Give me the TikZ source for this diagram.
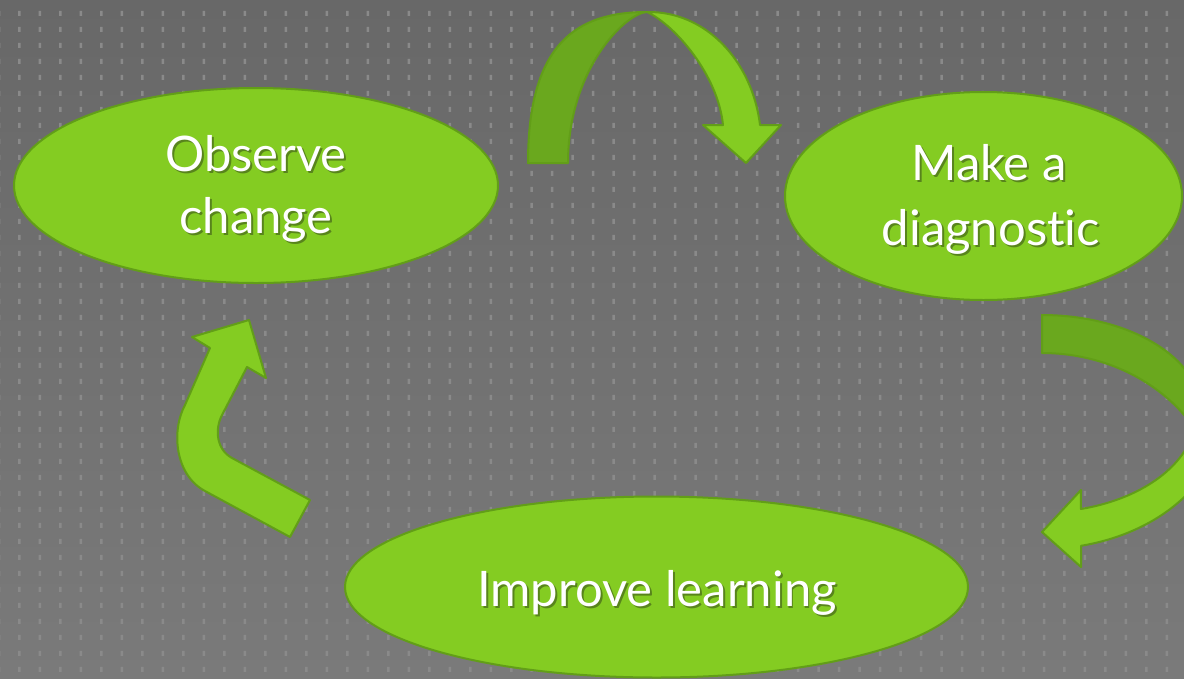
\documentclass[tikz,border=0pt]{standalone}
\usepackage{fontspec}
\setmainfont{Lato}[Ligatures={NoCommon,NoRare}]
\usetikzlibrary{shapes.geometric}
\definecolor{bgtop}{RGB}{104,104,104}
\definecolor{bgbot}{RGB}{122,122,122}
\definecolor{dotc}{RGB}{138,138,138}
\definecolor{gfill}{RGB}{132,204,34}
\definecolor{gedge}{RGB}{98,158,24}
\definecolor{gdark}{RGB}{106,168,30}
\definecolor{shadc}{RGB}{88,132,28}
\newcommand\shd[1]{\rlap{\hspace{2pt}\raisebox{-2.5pt}{\textcolor{shadc}{#1}}}#1}
\begin{document}
\begin{tikzpicture}[x=1pt,y=-1pt,
  ell/.style={ellipse, draw=gedge, line width=2pt, fill=gfill, inner sep=0pt},
  lbl/.style={text=white, font=\fontsize{49}{58}\selectfont, anchor=base, inner sep=0pt},
  band/.style={draw=gedge, line width=2pt, line join=round, fill=gfill},
  backband/.style={draw=gedge, line width=2pt, line join=round, fill=gdark}]
\useasboundingbox (0,0) rectangle (1184,678);
\clip (0,0) rectangle (1184,678);
\shade[top color=bgtop, bottom color=bgbot] (0,0) rectangle (1184,678);
\fill[dotc] \foreach \i in {0,...,58} { \foreach \j in {0,...,41} { ({-2.25+20.49*\i},{10.8+16*\j}) rectangle ++(2.5,5) } };
% top arrow
\path[backband] (528,163) .. controls (528,43) and (577,12) .. (647,12)
  .. controls (625,13) and (568,70) .. (568,163) -- cycle;
\path[band] (647,12) .. controls (705,11) and (752,60) .. (760,125) -- (781,125) -- (746,163) -- (703,125) -- (723,125)
  .. controls (718,75) and (675,25) .. (647,12) -- cycle;
% right arrow
\path[backband] plot[domain=270:360, samples=40] ({1042+160*cos(\x)},{413+98*sin(\x)})
  -- plot[domain=-35:-90, samples=40] ({1042+179*cos(\x)},{511+158*sin(\x)}) -- cycle;
\path[band] plot[domain=75.4:0, samples=40] ({1042+154.4*cos(\x)},{413+99.2*sin(\x)})
  -- plot[domain=0:77.55, samples=40] ({1042+181*cos(\x)},{413+136*sin(\x)})
  -- (1081,567) -- (1042,532) -- (1081,490) -- cycle;
% left bent arrow
\path[band] (290,537) -- (205,491) .. controls (175,475) and (171,431) .. (185,405) -- (210,348) -- (192,337)
  -- (249,320) -- (266,378) -- (247,367) -- (222,415) .. controls (214.5,429.4) and (216.4,449.6) .. (232,458)
  -- (310,500) -- cycle;
% ellipses
\node[ell, minimum width=484pt, minimum height=195pt] (obs) at (256,185.5) {};
\node[ell, minimum width=397pt, minimum height=208pt] (diag) at (983.5,196) {};
\node[ell, minimum width=623pt, minimum height=181pt] (impr) at (656.5,587) {};
% labels
\node[lbl] (t1) at (256,171) {\shd{Observe}};
\node[lbl] (t2) at (256,233) {\shd{change}};
\node[lbl] (t3) at (989,180) {\shd{Make a}};
\node[lbl] (t4) at (991,245) {\shd{diagnostic}};
\node[lbl] (t5) at (657,606) {\shd{Improve learning}};
\end{tikzpicture}
\end{document}
